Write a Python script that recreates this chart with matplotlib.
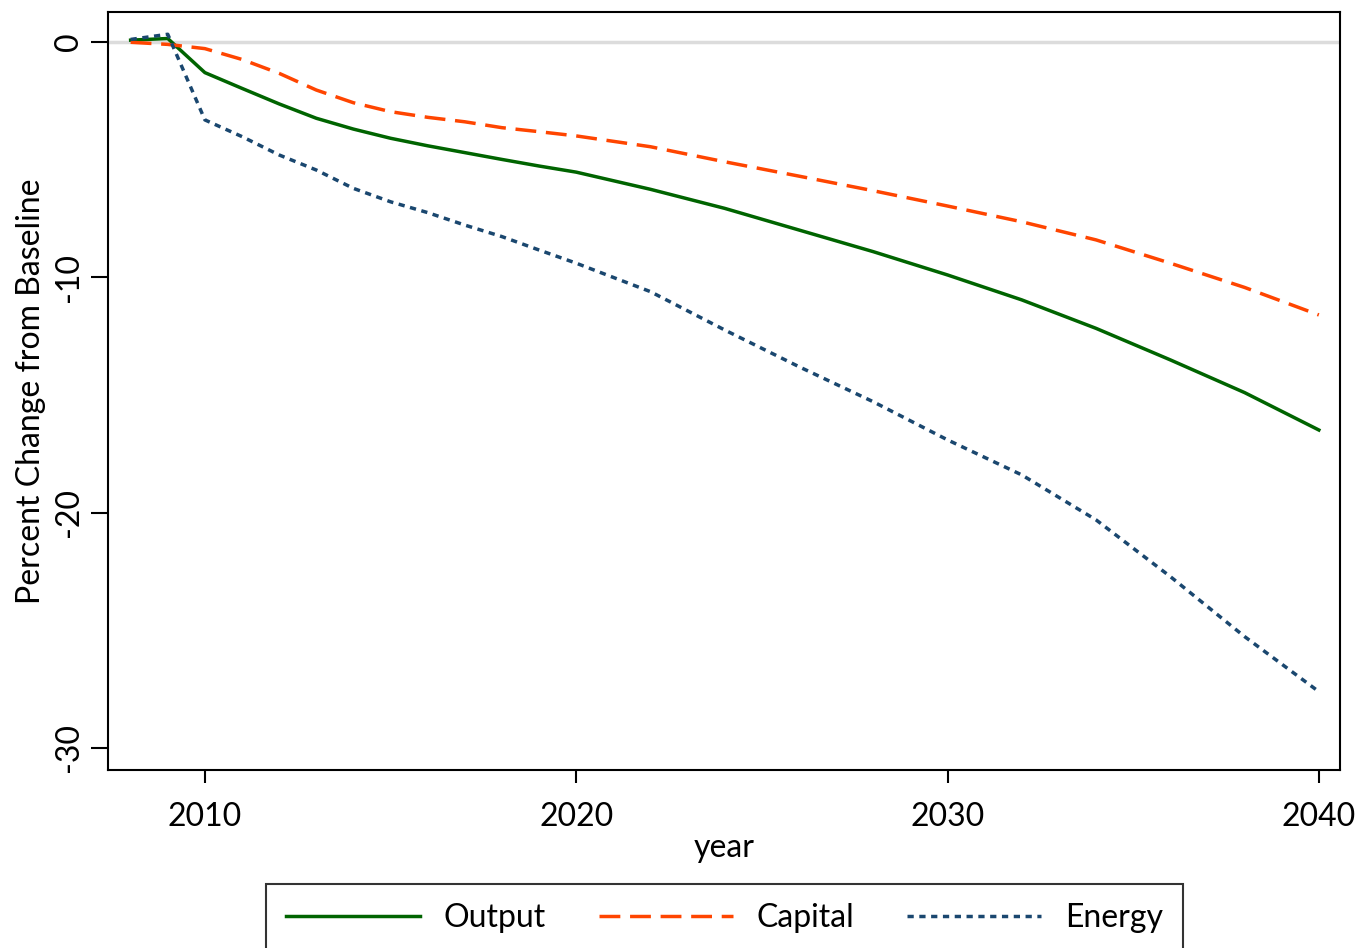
import numpy as np
import matplotlib
matplotlib.use("Agg")
from matplotlib import pyplot as plt

plt.rcParams['font.family'] = ['Lato', 'DejaVu Sans']

# values (percent change from baseline)
years = [2008, 2009, 2010, 2011, 2012, 2013, 2014, 2015, 2016, 2017, 2018, 2019, 2020,
         2022, 2024, 2026, 2028, 2030, 2032, 2034, 2036, 2038, 2040]
output = [0.08, 0.15, -1.30, -1.97, -2.63, -3.24, -3.70, -4.09, -4.41, -4.70, -4.99, -5.27, -5.53,
          -6.26, -7.07, -7.99, -8.91, -9.90, -10.96, -12.17, -13.51, -14.90, -16.49]
capital = [-0.01, -0.10, -0.28, -0.74, -1.33, -2.04, -2.58, -2.96, -3.20, -3.39, -3.64, -3.81, -3.99,
           -4.45, -5.09, -5.70, -6.32, -6.97, -7.64, -8.41, -9.40, -10.43, -11.60]
energy = [0.11, 0.33, -3.31, -4.02, -4.80, -5.44, -6.22, -6.79, -7.25, -7.78, -8.27, -8.84, -9.40,
          -10.61, -12.24, -13.80, -15.29, -16.91, -18.40, -20.31, -22.72, -25.27, -27.61]

x_ticks = [2010, 2020, 2030, 2040]
y_ticks = [0, -10, -20, -30]

fs = 23

fig = plt.figure(figsize=(13.6, 9.48), dpi=100)
ax = fig.add_axes([0.0794, 0.1878, 0.9059, 0.7995])

ax.axhline(0, color="#dcdcdc", lw=2.5, zorder=1)

lw = 2.5
ax.plot(years, output, color="#006400", lw=lw, label="Output", zorder=3)
ax.plot(years, capital, color="#ff4500", lw=lw, dashes=(6.0, 2.8), label="Capital", zorder=3)
ax.plot(years, energy, color="#1a476f", lw=lw, dashes=(1.8, 1.6), label="Energy", zorder=3)

ax.set_xlim(2007.39, 2040.57)
ax.set_ylim(-30.94, 1.275)
ax.set_xticks(x_ticks)
ax.set_yticks(y_ticks)
ax.set_yticklabels([str(v) for v in y_ticks], rotation=90, va="center")
ax.tick_params(axis="both", labelsize=fs, width=1.5, direction="out")
ax.tick_params(axis="y", length=12, pad=5)
ax.tick_params(axis="x", length=9, pad=14)

for sp in ax.spines.values():
    sp.set_linewidth(1.5)
    sp.set_color("black")

ax.set_xlabel("year", fontsize=fs, labelpad=1)
ax.set_ylabel("Percent Change from Baseline", fontsize=fs, labelpad=6)

leg = fig.legend(loc="upper center", bbox_to_anchor=(0.5327, 0.0675), ncol=3,
                 fontsize=fs, frameon=True, fancybox=False, edgecolor="black",
                 handlelength=4.2, handletextpad=0.75, columnspacing=1.65,
                 borderpad=0.6, borderaxespad=0)
leg.get_frame().set_linewidth(1.5)

fig.savefig("out.png", dpi=100)
